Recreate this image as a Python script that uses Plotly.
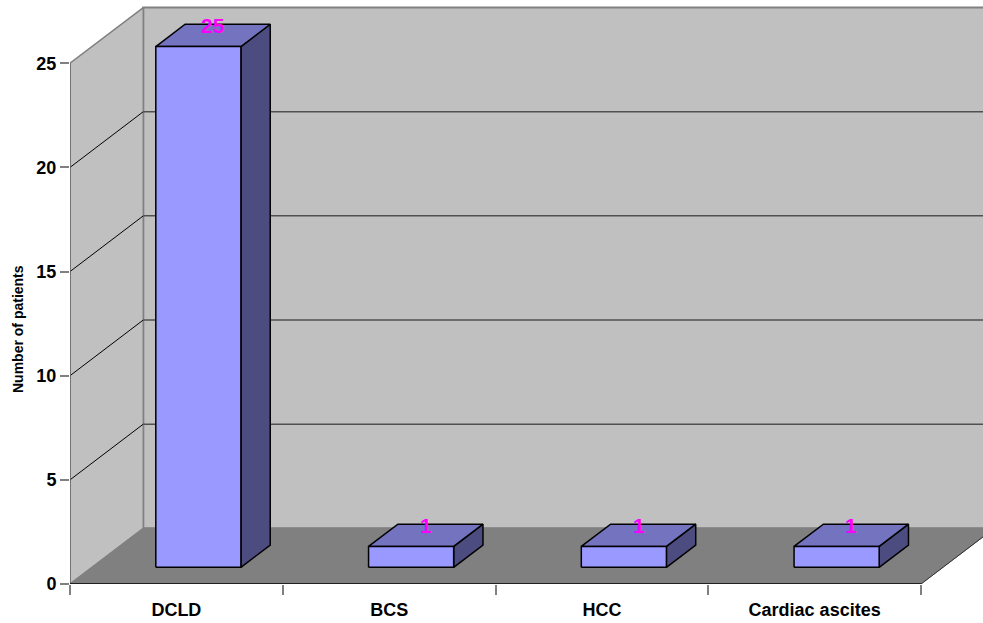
import plotly.graph_objects as go

# ---- data ----
categories = ["DCLD", "BCS", "HCC", "Cardiac ascites"]
patients = [25, 1, 1, 1]
y_ticks = [0, 5, 10, 15, 20, 25]
y_title = "Number of patients"

# ---- pseudo-3D projection constants (oblique) ----
DX = 0.3445   # depth offset, category units
DY = 2.674    # depth offset, value units
BAR_W = 0.4
D0, D1 = 0.3, 0.7

FONT = "Liberation Sans, Arial, sans-serif"
n = len(categories)
top = y_ticks[-1]

fig = go.Figure()


def poly(xs, ys, fill, line, width=1.0):
    fig.add_trace(go.Scatter(
        x=xs + [xs[0]], y=ys + [ys[0]], mode="lines", fill="toself",
        fillcolor=fill, line=dict(color=line, width=width),
        hoverinfo="skip", showlegend=False))


def segs(pairs, color, width):
    xs, ys = [], []
    for (x0, y0, x1, y1) in pairs:
        xs += [x0, x1, None]
        ys += [y0, y1, None]
    fig.add_trace(go.Scatter(x=xs, y=ys, mode="lines",
                             line=dict(color=color, width=width),
                             hoverinfo="skip", showlegend=False))


# walls and floor
poly([DX, n + DX, n + DX, DX], [DY, DY, top + DY, top + DY], "#C0C0C0", "#808080", 2)
poly([0, DX, DX, 0], [0, DY, top + DY, top], "#C0C0C0", "#808080", 1.5)
poly([0, n, n + DX, DX], [0, 0, DY, DY], "#808080", "#808080", 1)

# gridlines
segs([(0, v, DX, v + DY) for v in y_ticks[1:-1]], "black", 1)
segs([(DX, v + DY, n + DX, v + DY) for v in y_ticks[1:-1]], "#505050", 1.5)

# edges
segs([(0, 0, 0, top)], "#6a6a6a", 1.5)
segs([(n, 0, n + DX, DY)], "#303030", 1)
segs([(0, 0, n, 0)], "black", 1.5)

# bars
for i, v in enumerate(patients):
    xl = i + 0.5 - BAR_W / 2
    xr = i + 0.5 + BAR_W / 2
    poly([xr + D0 * DX, xr + D1 * DX, xr + D1 * DX, xr + D0 * DX],
         [D0 * DY, D1 * DY, v + D1 * DY, v + D0 * DY], "#4C4C80", "black", 1.5)
    poly([xl + D0 * DX, xr + D0 * DX, xr + D1 * DX, xl + D1 * DX],
         [v + D0 * DY, v + D0 * DY, v + D1 * DY, v + D1 * DY], "#7373BF", "black", 1.5)
    poly([xl + D0 * DX, xr + D0 * DX, xr + D0 * DX, xl + D0 * DX],
         [D0 * DY, D0 * DY, v + D0 * DY, v + D0 * DY], "#9999FF", "black", 1.5)
    fig.add_annotation(x=i + 0.5 + 0.5 * (D0 + D1) * DX, y=v + 0.5 * (D0 + D1) * DY,
                       text=str(v), showarrow=False, xanchor="center", yanchor="bottom",
                       yshift=-4,
                       font=dict(family=FONT, size=21, color="#FF00FF", weight="bold"))

fig.add_annotation(x=-0.057, xref="paper", y=12.24, yref="y", text=y_title,
                   textangle=-90, showarrow=False, xanchor="center", yanchor="middle",
                   font=dict(family=FONT, size=14, color="black", weight="bold"))

W, H = 983, 623
ML, MR, MT, MB = 70, 0, 4, 39
px_per_cat = 212.75
px_per_val = 20.83

fig.update_layout(
    width=W, height=H,
    margin=dict(l=ML, r=MR, t=MT, b=MB),
    paper_bgcolor="white", plot_bgcolor="white",
    showlegend=False,
    font=dict(family=FONT, color="black"),
    xaxis=dict(
        range=[0, (W - ML - MR) / px_per_cat],
        tickvals=[i + 0.5 for i in range(n)], ticktext=categories,
        ticks="outside", ticklen=9, tickcolor="rgba(0,0,0,0)",
        minor=dict(tickvals=list(range(n + 1)), ticks="outside", ticklen=10,
                   tickcolor="#808080", tickwidth=1.5),
        tickfont=dict(family=FONT, size=18, color="black", weight="bold"),
        showgrid=False, zeroline=False, showline=False, fixedrange=True,
    ),
    yaxis=dict(
        range=[0, (H - MT - MB) / px_per_val],
        tickvals=y_ticks, ticks="outside", ticklen=9, tickcolor="#808080", tickwidth=1.5,
        tickfont=dict(family=FONT, size=18, color="black", weight="bold"),
        showgrid=False, zeroline=False, showline=False, fixedrange=True,
    ),
)

fig.write_html("out.html")
